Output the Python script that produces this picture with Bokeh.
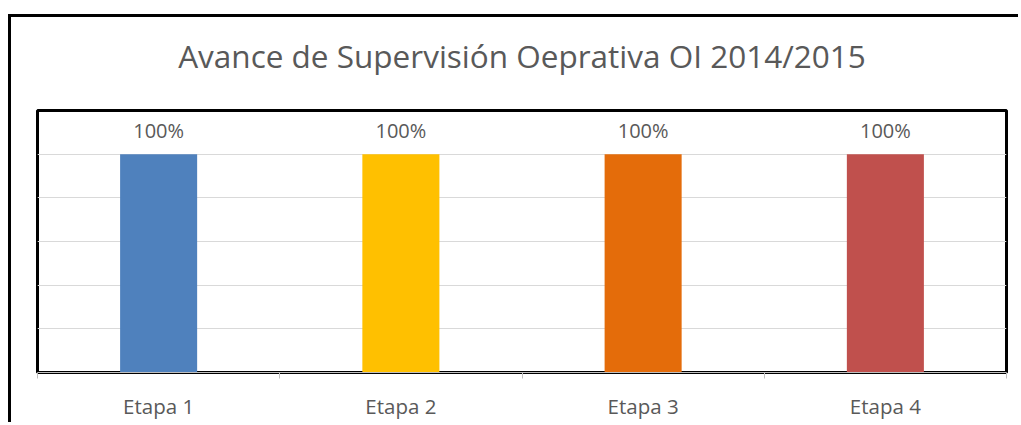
from bokeh.plotting import figure
from bokeh.models import FixedTicker, SingleIntervalTicker, Title
from bokeh.core.properties import value
from bokeh.embed import file_html
from bokeh.resources import INLINE

title = "Avance de Supervisión Oeprativa OI 2014/2015"
categories = ["Etapa 1", "Etapa 2", "Etapa 3", "Etapa 4"]
values = [1.0, 1.0, 1.0, 1.0]
colors = ["#4F81BD", "#FFC000", "#E46C0A", "#C0504D"]
labels = [f"{round(v * 100)}%" for v in values]

xs = [i + 0.5 for i in range(len(categories))]
y_max = 1.2

p = figure(width=1010, height=408, x_range=(0, len(categories)), y_range=(0, y_max),
           output_backend="svg", toolbar_location=None,
           min_border_left=26, min_border_right=15, min_border_top=93, min_border_bottom=53)
p.styles = {"border-left": "3px solid black", "border-top": "3px solid black",
            "margin-top": "14px", "margin-left": "8px"}
p.title = None

# spacer between the frame and the title
p.add_layout(Title(text=" ", text_font_size="2px", standoff=30), "above")
p.add_layout(Title(text=title, align="center", vertical_align="bottom", standoff=0,
                   text_font="Open Sans", text_font_size="31.5px",
                   text_font_style="normal", text_color="#595959"), "above")

p.outline_line_color = "black"
p.outline_line_width = 3
p.background_fill_color = "white"
p.border_fill_color = "white"

p.xgrid.visible = False
p.ygrid.ticker = SingleIntervalTicker(interval=0.2)
p.ygrid.grid_line_color = "#D9D9D9"
p.ygrid.grid_line_width = 1
p.yaxis.visible = False

p.xaxis.ticker = FixedTicker(ticks=xs, minor_ticks=list(range(len(categories) + 1)))
p.xaxis.major_label_overrides = {x: c for x, c in zip(xs, categories)}
p.xaxis.major_tick_line_color = None
p.xaxis.major_tick_out = 0
p.xaxis.major_tick_in = 0
p.xaxis.minor_tick_line_color = "#BFBFBF"
p.xaxis.minor_tick_out = 6
p.xaxis.minor_tick_in = 0
p.xaxis.axis_line_color = "#BFBFBF"
p.xaxis.major_label_text_font = "Open Sans"
p.xaxis.major_label_text_font_size = "20.5px"
p.xaxis.major_label_text_color = "#595959"
p.xaxis.major_label_standoff = 13

p.vbar(x=xs, top=values, width=0.318, fill_color=colors, line_color=None)
p.text(x=xs, y=values, text=labels, text_align="center", text_baseline="middle",
       y_offset=-24, text_font=value("Open Sans"), text_font_size="20px", text_color="#595959")

open("out.html", "w").write(file_html(p, INLINE))
